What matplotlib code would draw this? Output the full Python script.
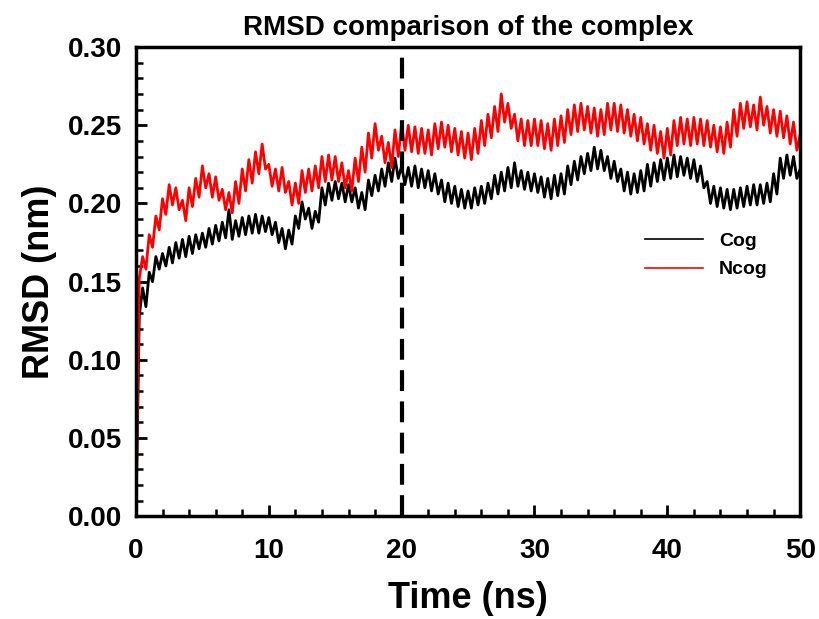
import numpy as np
import matplotlib
matplotlib.use("Agg")
import matplotlib.pyplot as plt
from matplotlib.ticker import MultipleLocator

plt.rcParams['font.family'] = ['Liberation Sans', 'DejaVu Sans']

# time axis, one value every 0.25 ns
time_ns = np.arange(0, 50.01, 0.25)

# RMSD (nm)
cog = [
    0.000, 0.128, 0.146, 0.134, 0.156, 0.150, 0.166, 0.158, 0.168, 0.160, 0.172, 0.162, 0.175, 0.165, 0.177, 0.166, 0.179, 0.168, 0.180, 0.171,
    0.181, 0.172, 0.184, 0.174, 0.186, 0.176, 0.188, 0.178, 0.196, 0.177, 0.189, 0.179, 0.191, 0.180, 0.192, 0.181, 0.193, 0.181, 0.192, 0.182,
    0.191, 0.180, 0.188, 0.175, 0.184, 0.171, 0.183, 0.174, 0.192, 0.184, 0.201, 0.190, 0.197, 0.184, 0.195, 0.188, 0.210, 0.199, 0.213, 0.202,
    0.214, 0.203, 0.213, 0.201, 0.212, 0.201, 0.210, 0.197, 0.207, 0.196, 0.215, 0.205, 0.218, 0.208, 0.222, 0.211, 0.226, 0.214, 0.229, 0.216,
    0.224, 0.212, 0.223, 0.211, 0.224, 0.210, 0.222, 0.210, 0.221, 0.208, 0.219, 0.206, 0.215, 0.201, 0.213, 0.200, 0.211, 0.198, 0.209, 0.197,
    0.208, 0.197, 0.210, 0.199, 0.211, 0.200, 0.213, 0.203, 0.218, 0.206, 0.220, 0.208, 0.223, 0.210, 0.226, 0.211, 0.221, 0.209, 0.220, 0.208,
    0.219, 0.207, 0.217, 0.204, 0.216, 0.203, 0.218, 0.205, 0.219, 0.206, 0.224, 0.212, 0.227, 0.215, 0.230, 0.219, 0.232, 0.221, 0.236, 0.222,
    0.234, 0.221, 0.230, 0.216, 0.227, 0.214, 0.222, 0.208, 0.220, 0.206, 0.219, 0.207, 0.221, 0.208, 0.225, 0.211, 0.226, 0.214, 0.228, 0.215,
    0.229, 0.216, 0.231, 0.217, 0.230, 0.218, 0.229, 0.216, 0.228, 0.214, 0.224, 0.210, 0.214, 0.200, 0.211, 0.198, 0.210, 0.197, 0.209, 0.196,
    0.209, 0.197, 0.210, 0.198, 0.211, 0.199, 0.212, 0.199, 0.212, 0.200, 0.213, 0.201, 0.219, 0.206, 0.229, 0.216, 0.231, 0.218, 0.230, 0.216,
    0.222,
]
ncog = [
    0.000, 0.152, 0.166, 0.158, 0.180, 0.172, 0.192, 0.183, 0.203, 0.193, 0.212, 0.199, 0.210, 0.196, 0.202, 0.189, 0.210, 0.198, 0.216, 0.204,
    0.224, 0.210, 0.219, 0.204, 0.217, 0.202, 0.209, 0.196, 0.207, 0.194, 0.214, 0.200, 0.222, 0.208, 0.228, 0.213, 0.233, 0.219, 0.238, 0.222,
    0.225, 0.211, 0.222, 0.208, 0.223, 0.207, 0.214, 0.199, 0.213, 0.200, 0.221, 0.207, 0.222, 0.208, 0.224, 0.210, 0.230, 0.214, 0.231, 0.215,
    0.230, 0.214, 0.226, 0.210, 0.221, 0.208, 0.229, 0.214, 0.236, 0.220, 0.245, 0.229, 0.251, 0.234, 0.243, 0.226, 0.239, 0.223, 0.247, 0.230,
    0.251, 0.234, 0.250, 0.233, 0.249, 0.232, 0.248, 0.232, 0.247, 0.231, 0.251, 0.235, 0.252, 0.236, 0.250, 0.233, 0.248, 0.231, 0.246, 0.229,
    0.245, 0.228, 0.248, 0.232, 0.253, 0.237, 0.257, 0.242, 0.262, 0.246, 0.270, 0.252, 0.264, 0.248, 0.257, 0.240, 0.254, 0.237, 0.253, 0.237,
    0.254, 0.237, 0.253, 0.235, 0.251, 0.234, 0.254, 0.237, 0.256, 0.239, 0.260, 0.244, 0.263, 0.246, 0.264, 0.247, 0.262, 0.245, 0.261, 0.243,
    0.260, 0.244, 0.264, 0.247, 0.264, 0.246, 0.263, 0.245, 0.260, 0.243, 0.257, 0.240, 0.255, 0.238, 0.251, 0.234, 0.250, 0.232, 0.246, 0.229,
    0.248, 0.231, 0.253, 0.237, 0.255, 0.238, 0.254, 0.237, 0.255, 0.238, 0.254, 0.237, 0.253, 0.236, 0.250, 0.233, 0.249, 0.232, 0.252, 0.236,
    0.260, 0.243, 0.264, 0.248, 0.265, 0.249, 0.263, 0.247, 0.268, 0.250, 0.262, 0.245, 0.260, 0.243, 0.259, 0.242, 0.256, 0.238, 0.252, 0.234,
    0.244,
]
split_time = 20

fig = plt.figure(figsize=(8.19, 6.19), dpi=100)
ax = fig.add_axes([0.166, 0.166, 0.811, 0.758])

ax.plot(time_ns, cog, color='black', lw=2.0, label='Cog')
ax.plot(time_ns, ncog, color='red', lw=2.0, label='Ncog')
ax.axvline(split_time, color='black', lw=3, linestyle=(0, (5, 2.5)))

ax.set_xlim(0, 50)
ax.set_ylim(0, 0.30)
ax.xaxis.set_major_locator(MultipleLocator(10))
ax.xaxis.set_minor_locator(MultipleLocator(2))
ax.yaxis.set_major_locator(MultipleLocator(0.05))
ax.yaxis.set_minor_locator(MultipleLocator(0.01))
ax.yaxis.set_major_formatter(matplotlib.ticker.FormatStrFormatter('%.2f'))
ax.tick_params(which='major', direction='in', length=8, width=2, labelsize=20, pad=16)
ax.tick_params(axis='y', which='major', pad=10)
ax.tick_params(which='minor', direction='in', length=5, width=1.8)
for lab in ax.get_xticklabels() + ax.get_yticklabels():
    lab.set_fontweight('bold')
for sp in ax.spines.values():
    sp.set_linewidth(2.5)

ax.set_xlabel('Time (ns)', fontsize=26, fontweight='bold', labelpad=12)
ax.set_ylabel('RMSD (nm)', fontsize=26, fontweight='bold', labelpad=8)
ax.set_title('RMSD comparison of the complex', fontsize=20, fontweight='bold', pad=9)

leg = ax.legend(loc='upper left', bbox_to_anchor=(0.74, 0.642), frameon=False,
                prop={'weight': 'bold', 'size': 14}, handlelength=3.0, labelspacing=0.55)
for line in leg.get_lines():
    line.set_linewidth(1.2)

fig.savefig('out.png', dpi=100)
